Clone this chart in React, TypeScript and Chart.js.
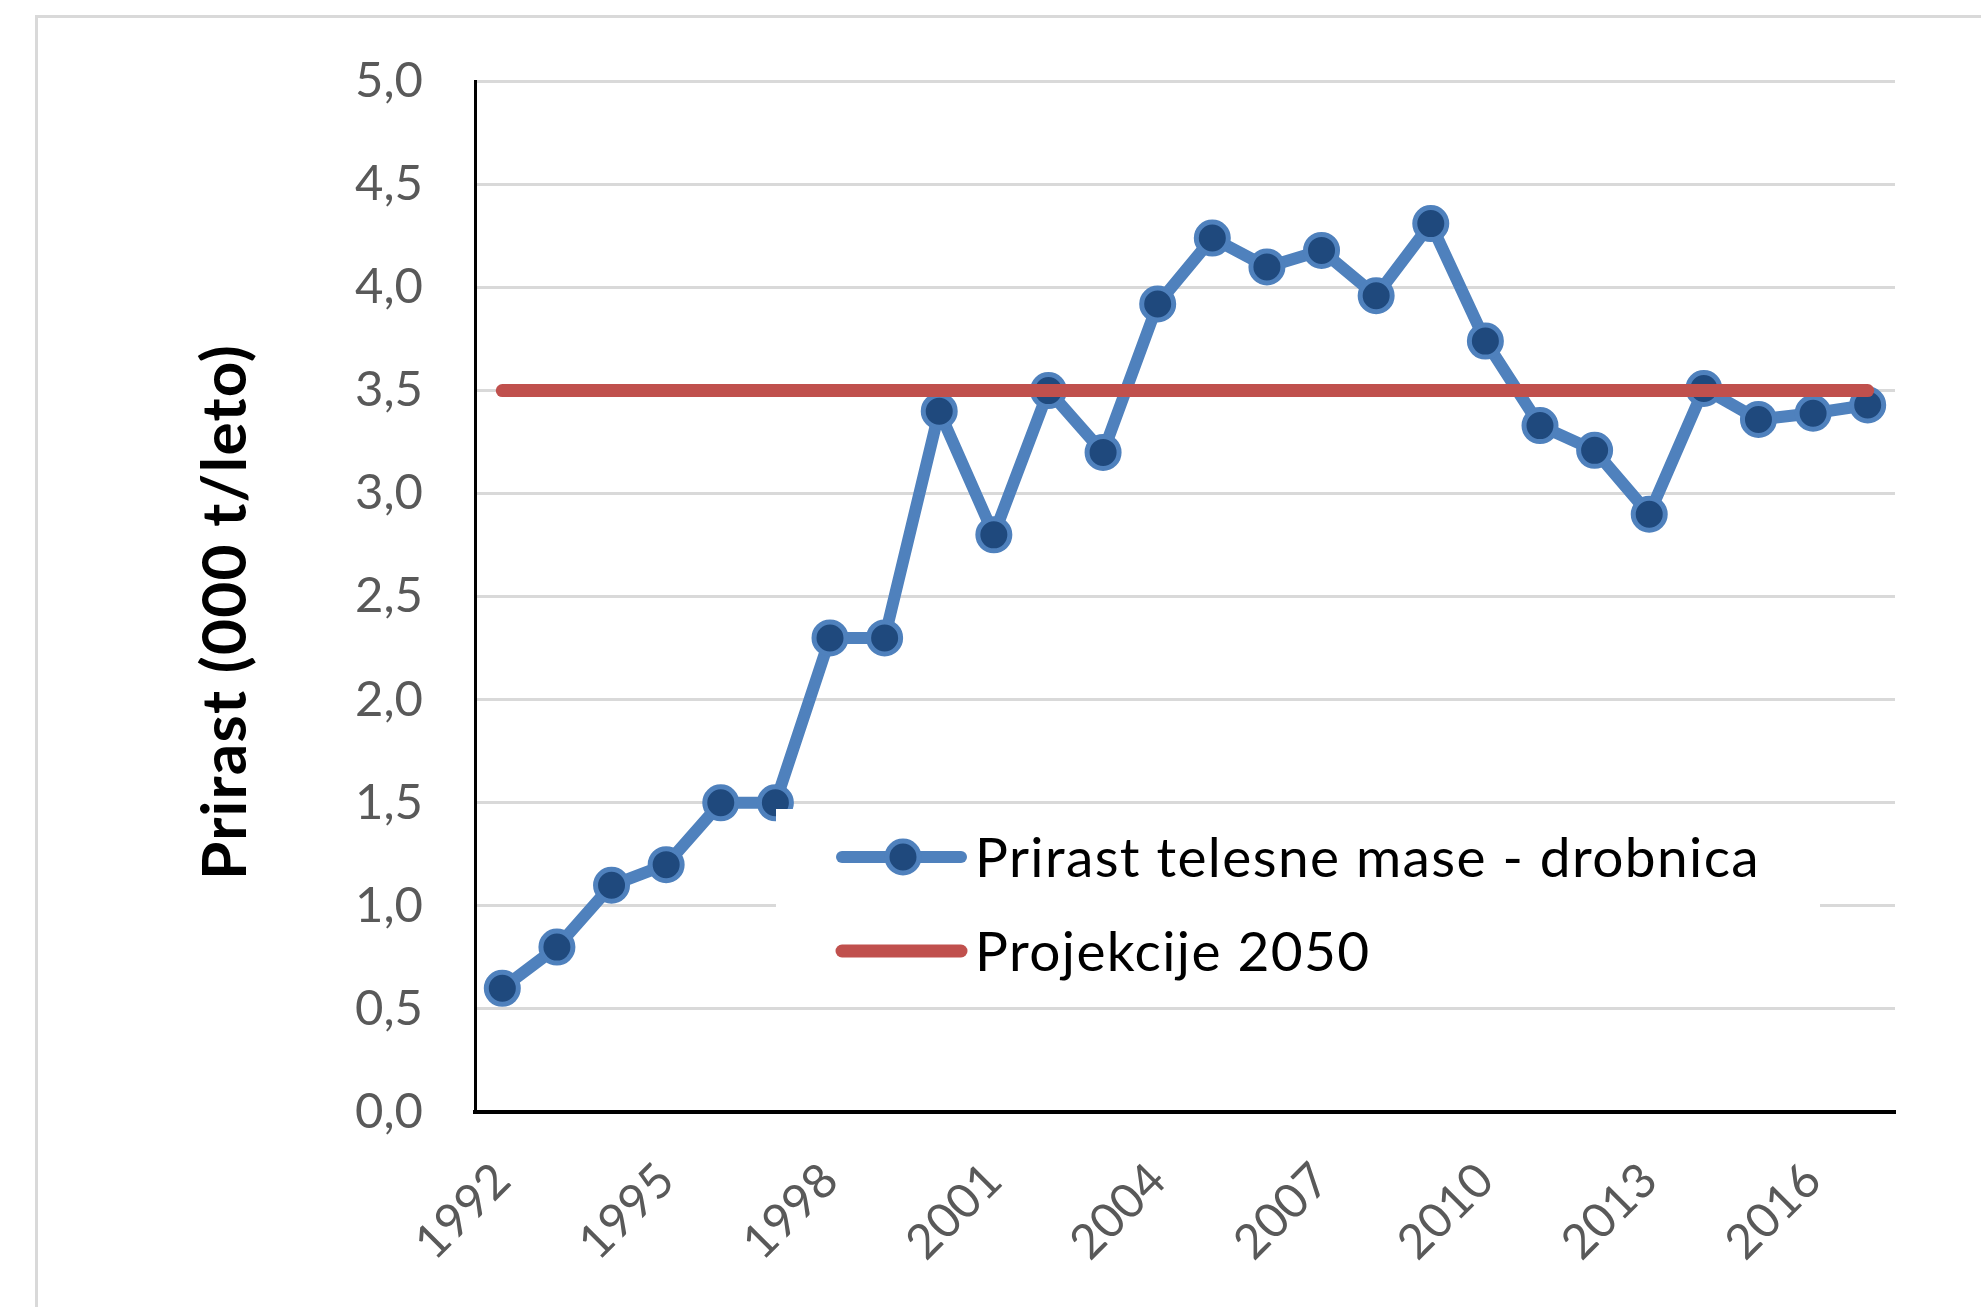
import React, { useEffect, useRef } from 'react';
import { Chart, registerables } from 'chart.js';

Chart.register(...registerables);

const years = [
  '1992', '1993', '1994', '1995', '1996', '1997', '1998', '1999', '2000', '2001',
  '2002', '2003', '2004', '2005', '2006', '2007', '2008', '2009', '2010', '2011',
  '2012', '2013', '2014', '2015', '2016', '2017',
];

const prirastDrobnica = [
  0.6, 0.8, 1.1, 1.2, 1.5, 1.5, 2.3, 2.3, 3.4, 2.8,
  3.5, 3.2, 3.92, 4.24, 4.1, 4.18, 3.96, 4.31, 3.74, 3.33,
  3.21, 2.9, 3.51, 3.36, 3.39, 3.43,
];

const projekcije2050 = [
  3.5, 3.5, 3.5, 3.5, 3.5, 3.5, 3.5, 3.5, 3.5, 3.5,
  3.5, 3.5, 3.5, 3.5, 3.5, 3.5, 3.5, 3.5, 3.5, 3.5,
  3.5, 3.5, 3.5, 3.5, 3.5, 3.5,
];

const seriesLabels = ['Prirast telesne mase - drobnica', 'Projekcije 2050'];
const yAxisTitle = 'Prirast (000 t/leto)';
const yMin = 0;
const yMax = 5;
const yStep = 0.5;
const xLabelEvery = 3;

const FONT = 'Lato';

const boxLegendPlugin = {
  id: 'boxLegend',
  afterDatasetsDraw(chart: any) {
    const ctx = chart.ctx as CanvasRenderingContext2D;
    ctx.save();
    ctx.fillStyle = '#ffffff';
    ctx.fillRect(776, 809, 1044, 190);
    const rows = [857, 951];
    chart.data.datasets.forEach((ds: any, i: number) => {
      const y = rows[i];
      ctx.strokeStyle = ds.borderColor;
      ctx.lineWidth = ds.borderWidth;
      ctx.lineCap = 'round';
      ctx.beginPath();
      ctx.moveTo(842, y);
      ctx.lineTo(961, y);
      ctx.stroke();
      if (ds.pointRadius > 0) {
        ctx.beginPath();
        ctx.arc(903, y, ds.pointRadius, 0, Math.PI * 2);
        ctx.fillStyle = ds.pointBackgroundColor;
        ctx.fill();
        ctx.lineWidth = ds.pointBorderWidth;
        ctx.strokeStyle = ds.pointBorderColor;
        ctx.stroke();
      }
      ctx.fillStyle = '#000000';
      ctx.font = `55px ${FONT}`;
      (ctx as any).letterSpacing = '1.4px';
      ctx.textAlign = 'left';
      ctx.textBaseline = 'middle';
      ctx.fillText(ds.label, 975, y + 2);
    });
    ctx.restore();
  },
};

const yTitlePlugin = {
  id: 'yTitle',
  afterDraw(chart: any) {
    const ctx = chart.ctx as CanvasRenderingContext2D;
    ctx.save();
    ctx.translate(226, 612);
    ctx.rotate(-Math.PI / 2);
    ctx.fillStyle = '#000000';
    ctx.font = `bold 62px ${FONT}`;
    (ctx as any).letterSpacing = '1.3px';
    ctx.textAlign = 'center';
    ctx.textBaseline = 'middle';
    ctx.fillText(yAxisTitle, 0, 0);
    ctx.restore();
  },
};

export default function App() {
  const ref = useRef<HTMLCanvasElement>(null);

  useEffect(() => {
    const chart = new Chart(ref.current as HTMLCanvasElement, {
      type: 'line',
      data: {
        labels: years,
        datasets: [
          {
            label: seriesLabels[0],
            data: prirastDrobnica,
            borderColor: '#4F81BD',
            borderWidth: 12,
            borderJoinStyle: 'round',
            borderCapStyle: 'round',
            pointRadius: 16,
            pointBorderWidth: 5,
            pointBackgroundColor: '#1F497D',
            pointBorderColor: '#4F81BD',
            pointHoverRadius: 16,
            tension: 0,
            fill: false,
            order: 1,
          },
          {
            label: seriesLabels[1],
            data: projekcije2050,
            borderColor: '#C0504D',
            borderWidth: 13,
            borderCapStyle: 'round',
            pointRadius: 0,
            pointHoverRadius: 0,
            tension: 0,
            fill: false,
            order: 0,
          },
        ],
      } as any,
      options: {
        responsive: false,
        animation: false,
        devicePixelRatio: 1,
        layout: { padding: { left: 0, top: 80, right: 86, bottom: 0 } },
        plugins: {
          legend: { display: false },
          tooltip: { enabled: false },
          title: { display: false },
        },
        scales: {
          x: {
            type: 'category',
            offset: true,
            afterFit: (s: any) => {
              s.height = 195;
            },
            grid: { display: false, drawTicks: false },
            border: { display: true, color: '#000000', width: 4 },
            ticks: {
              autoSkip: false,
              minRotation: 45,
              maxRotation: 45,
              padding: 40,
              color: '#595959',
              font: { family: FONT, size: 48 },
              callback: (_v: any, i: number) => (i % xLabelEvery === 0 ? years[i] : ''),
            },
          },
          y: {
            min: yMin,
            max: yMax,
            afterFit: (s: any) => {
              s.width = 475;
            },
            grid: {
              drawTicks: false,
              lineWidth: 3,
              color: (c: any) => (c.tick && c.tick.value === 0 ? 'rgba(0,0,0,0)' : '#D9D9D9'),
            },
            border: { display: true, color: '#000000', width: 3 },
            ticks: {
              stepSize: yStep,
              padding: 52,
              color: '#595959',
              font: { family: FONT, size: 49 },
              callback: (v: any) => Number(v).toFixed(1).replace('.', ','),
            },
          },
        },
      } as any,
      plugins: [boxLegendPlugin, yTitlePlugin],
    });
    return () => chart.destroy();
  }, []);

  return (
    <div
      style={{
        position: 'fixed',
        left: 0,
        top: 0,
        width: 1981,
        height: 1307,
        overflow: 'hidden',
        background: '#ffffff',
      }}
    >
      <div
        style={{
          position: 'absolute',
          left: 35,
          top: 15,
          width: 2400,
          height: 1700,
          border: '3px solid #D9D9D9',
          boxSizing: 'border-box',
        }}
      />
      <canvas
        ref={ref}
        width={1981}
        height={1307}
        style={{ position: 'absolute', left: 0, top: 0, width: 1981, height: 1307 }}
      />
    </div>
  );
}
